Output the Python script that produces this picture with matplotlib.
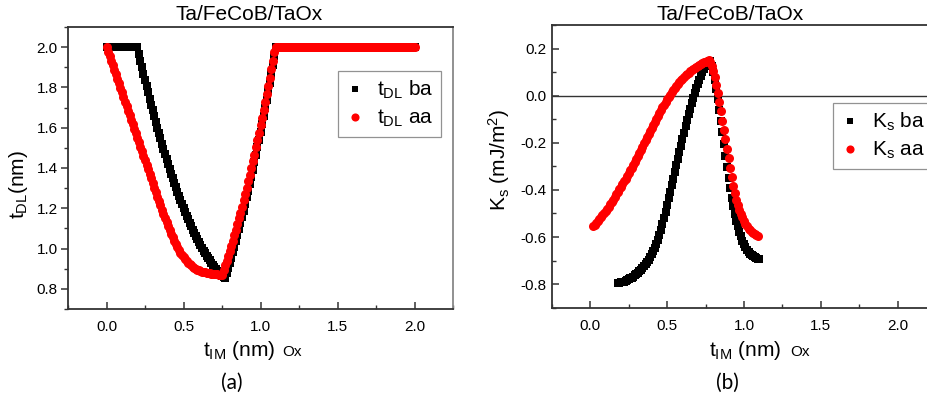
import numpy as np
import matplotlib
matplotlib.use("Agg")
import matplotlib.pyplot as plt
from matplotlib.ticker import MultipleLocator

plt.rcParams['font.family'] = ['Liberation Sans', 'DejaVu Sans']
plt.rcParams['mathtext.fontset'] = 'custom'
plt.rcParams['mathtext.rm'] = 'Liberation Sans'
plt.rcParams['mathtext.it'] = 'Liberation Sans:italic'

# ---- panel (a): t_DL vs t_IM ----
x_a = np.round(np.arange(0, 201) * 0.01, 2)  # 0.00 .. 2.00 nm, 0.01 step

tdl_ba_flat_start = [2.0] * 20  # 0.00 .. 0.19
tdl_ba_down = [2.000, 1.966, 1.933, 1.901, 1.869, 1.837, 1.806, 1.775, 1.745, 1.715,
               1.686, 1.657, 1.629, 1.601, 1.574, 1.547, 1.521, 1.495, 1.469, 1.444,
               1.420, 1.396, 1.372, 1.349, 1.327, 1.305, 1.283, 1.262, 1.242, 1.221,
               1.202, 1.183, 1.164, 1.146, 1.128, 1.111, 1.094, 1.078, 1.062, 1.046,
               1.032, 1.017, 1.003, 0.990, 0.977, 0.964, 0.952, 0.941, 0.930, 0.919,
               0.909, 0.900, 0.891, 0.882, 0.874, 0.866, 0.859, 0.852]  # 0.20 .. 0.77
tdl_ba_up = [0.877, 0.902, 0.928, 0.954, 0.981, 1.009, 1.037, 1.066, 1.096, 1.126,
             1.157, 1.189, 1.221, 1.254, 1.287, 1.321, 1.356, 1.392, 1.428, 1.464,
             1.502, 1.540, 1.578, 1.618, 1.658, 1.698, 1.739, 1.781, 1.824, 1.867,
             1.911, 1.955, 2.000]  # 0.78 .. 1.10
tdl_ba_flat_end = [2.0] * 90  # 1.11 .. 2.00

tdl_aa_down = [2.000, 1.978, 1.955, 1.933, 1.910, 1.888, 1.865, 1.843, 1.820, 1.798,
               1.775, 1.753, 1.730, 1.708, 1.685, 1.663, 1.640, 1.618, 1.595, 1.573,
               1.550, 1.528, 1.505, 1.483, 1.460, 1.438, 1.415, 1.393, 1.370, 1.348,
               1.325, 1.303, 1.280, 1.258, 1.236, 1.214, 1.193, 1.172, 1.151, 1.131,
               1.111, 1.092, 1.073, 1.055, 1.038, 1.022, 1.007, 0.993, 0.980, 0.968,
               0.957, 0.947, 0.938, 0.930, 0.923, 0.916, 0.910, 0.905, 0.900, 0.896,
               0.892, 0.889, 0.886, 0.884, 0.882, 0.880, 0.878, 0.877, 0.876, 0.875,
               0.874, 0.873, 0.872, 0.871, 0.870, 0.870]  # 0.00 .. 0.75
tdl_aa_up = [0.893, 0.916, 0.940, 0.964, 0.989, 1.014, 1.040, 1.067, 1.094, 1.122,
             1.150, 1.179, 1.208, 1.239, 1.269, 1.301, 1.333, 1.365, 1.399, 1.433,
             1.467, 1.503, 1.539, 1.575, 1.612, 1.650, 1.689, 1.728, 1.767, 1.808,
             1.849, 1.891, 1.933, 1.976]  # 0.76 .. 1.09
tdl_aa_flat_end = [2.0] * 91  # 1.10 .. 2.00

# ---- panel (b): Ks vs t_IM ----
x_ks_ba = np.round(np.arange(18, 111) * 0.01, 2)  # 0.18 .. 1.10
ks_ba = [-0.796, -0.795, -0.793, -0.791, -0.789, -0.786, -0.783, -0.780, -0.776, -0.772,
         -0.768, -0.763, -0.758, -0.752, -0.746, -0.740, -0.733, -0.725, -0.716, -0.707,
         -0.697, -0.686, -0.674, -0.661, -0.647, -0.631, -0.613, -0.593, -0.570, -0.545,
         -0.519, -0.492, -0.464, -0.436, -0.408, -0.380, -0.352, -0.324, -0.296, -0.268,
         -0.240, -0.212, -0.184, -0.157, -0.130, -0.104, -0.079, -0.055, -0.032, -0.010,
         0.011, 0.031, 0.050, 0.068, 0.084, 0.099, 0.112, 0.124, 0.134, 0.142,
         0.146, 0.128, 0.100, 0.066, 0.028, -0.015, -0.060, -0.107, -0.155, -0.204,
         -0.254, -0.303, -0.350, -0.394, -0.434, -0.470, -0.502, -0.530, -0.555, -0.577,
         -0.596, -0.616, -0.631, -0.643, -0.654, -0.663, -0.670, -0.676, -0.681, -0.685,
         -0.689, -0.692, -0.695]

x_ks_aa = np.round(np.arange(2, 110) * 0.01, 2)  # 0.02 .. 1.09
ks_aa = [-0.555, -0.548, -0.540, -0.532, -0.524, -0.516, -0.508, -0.499, -0.490,
         -0.481, -0.471, -0.461, -0.451, -0.441, -0.430, -0.419, -0.408, -0.397, -0.386,
         -0.375, -0.364, -0.353, -0.341, -0.329, -0.317, -0.305, -0.293, -0.281, -0.268,
         -0.255, -0.242, -0.229, -0.216, -0.203, -0.190, -0.177, -0.164, -0.151, -0.138,
         -0.125, -0.112, -0.099, -0.086, -0.074, -0.062, -0.050, -0.038, -0.027, -0.016,
         -0.006, 0.004, 0.014, 0.023, 0.032, 0.041, 0.049, 0.057, 0.065, 0.072,
         0.079, 0.086, 0.092, 0.098, 0.104, 0.109, 0.114, 0.119, 0.123, 0.127,
         0.131, 0.135, 0.138, 0.141, 0.144, 0.147,
         0.150, 0.145, 0.128, 0.105, 0.078, 0.046, 0.011, -0.027, -0.066, -0.106,
         -0.146, -0.186, -0.226, -0.265, -0.308, -0.347, -0.383, -0.414, -0.441, -0.464,
         -0.484, -0.502, -0.517, -0.531, -0.543, -0.554, -0.564, -0.572, -0.579, -0.585,
         -0.589, -0.592, -0.595]

title = "Ta/FeCoB/TaOx"
spine_col = '#333333'


def style_axes(ax, ylim, ymajor, yminor, ydir):
    ax.set_xlim(-0.25, 2.25)
    ax.set_ylim(*ylim)
    ax.xaxis.set_major_locator(MultipleLocator(0.5))
    ax.xaxis.set_minor_locator(MultipleLocator(0.25))
    ax.yaxis.set_major_locator(MultipleLocator(ymajor))
    ax.yaxis.set_minor_locator(MultipleLocator(yminor))
    ax.xaxis.set_major_formatter(plt.FormatStrFormatter('%.1f'))
    ax.yaxis.set_major_formatter(plt.FormatStrFormatter('%.1f'))
    ax.tick_params(axis='x', which='both', direction='in', top=False, labelsize=11,
                   pad=8, color=spine_col)
    ax.tick_params(axis='y', which='both', direction=ydir, right=False, labelsize=11,
                   pad=2.5 if ydir == 'out' else 4, color=spine_col)
    ax.tick_params(which='major', length=5, width=1.1)
    ax.tick_params(which='minor', length=3, width=1.0)
    for s in ax.spines.values():
        s.set_color(spine_col)
        s.set_linewidth(1.3)


def add_legend(ax, anchor):
    leg = ax.legend(loc='upper left', bbox_to_anchor=anchor, borderaxespad=0,
                    fontsize=15, frameon=True, fancybox=False, edgecolor='#777777',
                    handlelength=0.9, handletextpad=0.6, borderpad=0.38,
                    labelspacing=0.32, markerscale=0.9)
    leg.get_frame().set_linewidth(0.9)
    return leg


fig = plt.figure(figsize=(9.27, 4.01), dpi=100)
W, H = 927.0, 401.0

ax1 = fig.add_axes([68 / W, 1 - 309 / H, 385 / W, 282 / H])
y_ba = tdl_ba_flat_start + tdl_ba_down + tdl_ba_up + tdl_ba_flat_end
y_aa = tdl_aa_down + tdl_aa_up + tdl_aa_flat_end
ax1.plot(x_a, y_ba, 's', color='black', ms=5.3, mew=0, label=r't$_{\mathrm{DL}}$ ba')
ax1.plot(x_a, y_aa, 'o', color='#ff0000', ms=6.5, mew=0, label=r't$_{\mathrm{DL}}$ aa')
style_axes(ax1, (0.7, 2.1), 0.2, 0.1, 'out')
ax1.spines['right'].set_color('#888888')
add_legend(ax1, ((338 - 68) / 385, (309 - 71) / 282))

ax2 = fig.add_axes([551.7 / W, 1 - 307.7 / H, 384.5 / W, 282.7 / H])
ax2.axhline(0, color='#333333', lw=1.0, zorder=1)
ax2.plot(x_ks_ba, ks_ba, 's', color='black', ms=5.3, mew=0, label=r'K$_{\mathrm{s}}$ ba')
ax2.plot(x_ks_aa, ks_aa, 'o', color='#ff0000', ms=6.5, mew=0, label=r'K$_{\mathrm{s}}$ aa')
style_axes(ax2, (-0.9, 0.3), 0.2, 0.1, 'in')
add_legend(ax2, ((832.7 - 551.7) / 384.5, (307.7 - 103) / 282.7))

# titles, axis labels, panel tags
fig.text(249 / W, 1 - 14.5 / H, title, ha='center', va='center', fontsize=15)
fig.text(730 / W, 1 - 14.5 / H, title, ha='center', va='center', fontsize=15)

fig.text(19 / W, 1 - 185 / H, r't$_{\mathrm{DL}}$(nm)', rotation=90, ha='center',
         va='center', fontsize=15)
fig.text(499 / W, 1 - 160 / H, r'K$_{\mathrm{s}}$ (mJ/m$^{2}$)', rotation=90, ha='center',
         va='center', fontsize=15)

fig.text(203 / W, 1 - 351 / H, r't$_{\mathrm{IM}}$ (nm)', ha='left', va='center', fontsize=15)
fig.text(282 / W, 1 - 352 / H, 'Ox', ha='left', va='center', fontsize=11)
fig.text(709 / W, 1 - 351 / H, r't$_{\mathrm{IM}}$ (nm)', ha='left', va='center', fontsize=15)
fig.text(790 / W, 1 - 352 / H, 'Ox', ha='left', va='center', fontsize=11)

fig.text(232 / W, 1 - 383 / H, '(a)', ha='center', va='center', fontsize=15,
         family=['Lato', 'DejaVu Sans'])
fig.text(727 / W, 1 - 383 / H, '(b)', ha='center', va='center', fontsize=15,
         family=['Lato', 'DejaVu Sans'])

fig.savefig("out.png", dpi=100)
